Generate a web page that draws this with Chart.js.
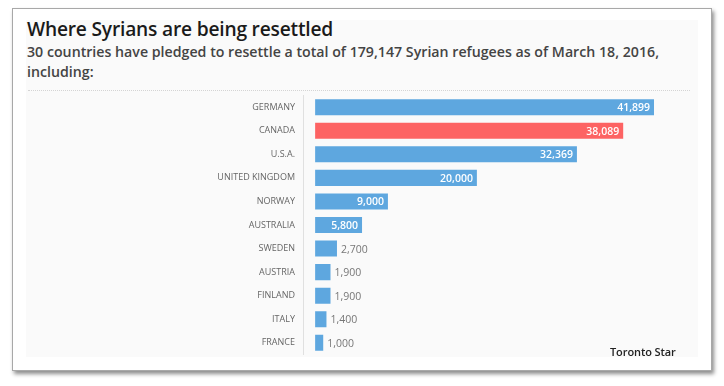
<!DOCTYPE html>
<html>
<head>
<meta charset="utf-8">
<script src="https://cdn.jsdelivr.net/npm/chart.js@4/dist/chart.umd.min.js"></script>
<style>
  html, body { margin: 0; padding: 0; background: #fff; }
  body { width: 724px; height: 386px; position: relative; overflow: hidden; font-family: "Open Sans", sans-serif; }
  .frame { position: absolute; left: 12px; top: 8px; width: 698px; height: 361px; border: 1px solid #a8a8a8; background: #fff; box-shadow: 2px 3px 4px rgba(0,0,0,0.45); }
  .panel { position: absolute; left: 26px; top: 20px; width: 672px; height: 337px; background: #fafafa; }
  .title { position: absolute; left: 27px; top: 15px; font-size: 19.2px; font-weight: 600; color: #1a1a1a; letter-spacing: -0.2px; }
  .sub { position: absolute; left: 27px; top: 42px; width: 680px; font-size: 14.2px; font-weight: 600; color: #444; line-height: 20px; }
  .rule { position: absolute; left: 28px; top: 90px; width: 662px; border-top: 1px dotted #d4d4d4; }
  .wrap { position: absolute; left: 26px; top: 82px; width: 672px; height: 286px; }
  .credit { position: absolute; left: 610px; top: 344px; font-size: 11px; font-weight: 600; color: #222; letter-spacing: -0.1px; }
</style>
</head>
<body>
<div class="frame"></div>
<div class="panel"></div>
<div class="title">Where Syrians are being resettled</div>
<div class="sub">30 countries have pledged to resettle a total of 179,147 Syrian refugees as of March 18, 2016, including:</div>
<div class="rule"></div>
<div class="wrap"><canvas id="chart"></canvas></div>
<div class="credit">Toronto Star</div>
<script>
const countries = ["GERMANY", "CANADA", "U.S.A.", "UNITED KINGDOM", "NORWAY", "AUSTRALIA", "SWEDEN", "AUSTRIA", "FINLAND", "ITALY", "FRANCE"];
const pledged = [41899, 38089, 32369, 20000, 9000, 5800, 2700, 1900, 1900, 1400, 1000];
const barColors = countries.map((c) => (c === "CANADA" ? "#fd6363" : "#5ea7df"));

// value labels: inside the bar when it is long enough, outside otherwise
const valueLabels = {
  id: "valueLabels",
  afterDatasetsDraw(chart) {
    const ctx = chart.ctx;
    const meta = chart.getDatasetMeta(0);
    ctx.save();
    ctx.textBaseline = "middle";
    meta.data.forEach((bar, i) => {
      const v = pledged[i];
      const txt = v.toLocaleString("en-US");
      if (v >= 5000) {
        ctx.font = "600 10.5px 'Open Sans'";
        ctx.fillStyle = "#fff";
        ctx.textAlign = "right";
        ctx.fillText(txt, bar.x - 4, bar.y + 1);
      } else {
        ctx.font = "10.5px 'Open Sans'";
        ctx.fillStyle = "#777";
        ctx.textAlign = "left";
        ctx.fillText(txt, bar.x + 4, bar.y + 1);
      }
    });
    ctx.restore();
  },
};

new Chart(document.getElementById("chart"), {
  type: "bar",
  data: {
    labels: countries,
    datasets: [{
      data: pledged,
      backgroundColor: barColors,
      barPercentage: 0.68,
      categoryPercentage: 1,
    }],
  },
  options: {
    indexAxis: "y",
    responsive: true,
    maintainAspectRatio: false,
    animation: false,
    layout: { padding: { top: 0, bottom: 0, right: 27 } },
    scales: {
      x: { display: false, min: -1500, max: 44000 },
      y: {
        afterFit: (scale) => { scale.width = 277; },
        grid: { display: false, drawTicks: false },
        border: { display: true, color: "#e0e0e0", dash: [2, 2] },
        ticks: { padding: 8, color: "#666", font: { family: "'Open Sans'", size: 9 } },
      },
    },
    plugins: { legend: { display: false }, tooltip: { enabled: false } },
  },
  plugins: [valueLabels],
});
</script>
</body>
</html>
